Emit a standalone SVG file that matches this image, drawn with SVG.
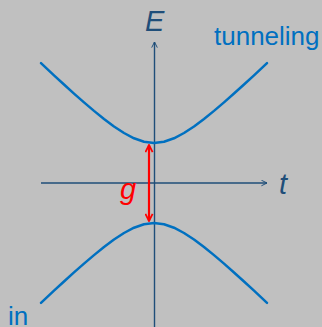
<svg xmlns="http://www.w3.org/2000/svg" width="322" height="327" viewBox="0 0 322 327">
<defs>
<style>
.axis{stroke:#1f4e79;stroke-width:1.4;fill:none}
.band{stroke:#0070c0;stroke-width:2.5;fill:none;stroke-linejoin:round;stroke-linecap:round}
.gap{stroke:#ff0000;stroke-width:2.2;fill:none}
.math{font-family:"Liberation Sans",Arial,sans-serif;font-style:italic;font-size:29px}
.lbl{font-family:"Liberation Sans",Arial,sans-serif;font-size:26px;fill:#0070c0}
</style>
<marker id="axArrow" viewBox="0 0 10 10" refX="9" refY="5" markerWidth="7" markerHeight="7" markerUnits="userSpaceOnUse" orient="auto">
<path d="M1,1 L9,5 L1,9" fill="none" stroke="#1f4e79" stroke-width="1.4"/>
</marker>
<marker id="redArrow" viewBox="0 0 10 10" refX="9" refY="5" markerWidth="9" markerHeight="9" markerUnits="userSpaceOnUse" orient="auto-start-reverse">
<path d="M1,1 L9,5 L1,9" fill="none" stroke="#ff0000" stroke-width="2"/>
</marker>
</defs>
<rect width="322" height="327" fill="#c0c0c0"/>
<g id="connectors">
<line id="t-axis" class="axis" x1="41" y1="183" x2="267" y2="183" marker-end="url(#axArrow)"/>
<line id="E-axis" class="axis" x1="154.5" y1="327" x2="154.5" y2="42" marker-end="url(#axArrow)"/>
<line id="gap-arrow" class="gap" x1="149" y1="145" x2="149" y2="221" marker-start="url(#redArrow)" marker-end="url(#redArrow)"/>
</g>
<g id="upper-band">
<path class="band" d="M41,63.13 L54,75.3 L64,84.51 L74,93.56 L84,102.38 L94,110.89 L104,118.97 L114,126.43 L124,133 L134,138.28 L144,141.77 L154,143 L164,141.77 L174,138.28 L184,133 L194,126.43 L204,118.97 L214,110.89 L224,102.38 L234,93.56 L244,84.51 L254,75.3 L267,63.13"/>
</g>
<g id="lower-band">
<path class="band" d="M41,302.87 L54,290.7 L64,281.49 L74,272.44 L84,263.62 L94,255.11 L104,247.03 L114,239.57 L124,233 L134,227.72 L144,224.23 L154,223 L164,224.23 L174,227.72 L184,233 L194,239.57 L204,247.03 L214,255.11 L224,263.62 L234,272.44 L244,281.49 L254,290.7 L267,302.87"/>
</g>
<g id="labels">
<text id="E-label" class="math" x="145" y="31" fill="#1f4e79">E</text>
<text id="t-label" class="math" x="279" y="194" fill="#1f4e79">t</text>
<text id="g-label" class="math" x="120" y="199" fill="#ff0000">g</text>
<text id="tunneling-label" class="lbl" x="214" y="45">tunneling</text>
<text id="in-label" class="lbl" x="8" y="325">in</text>
</g>
</svg>
